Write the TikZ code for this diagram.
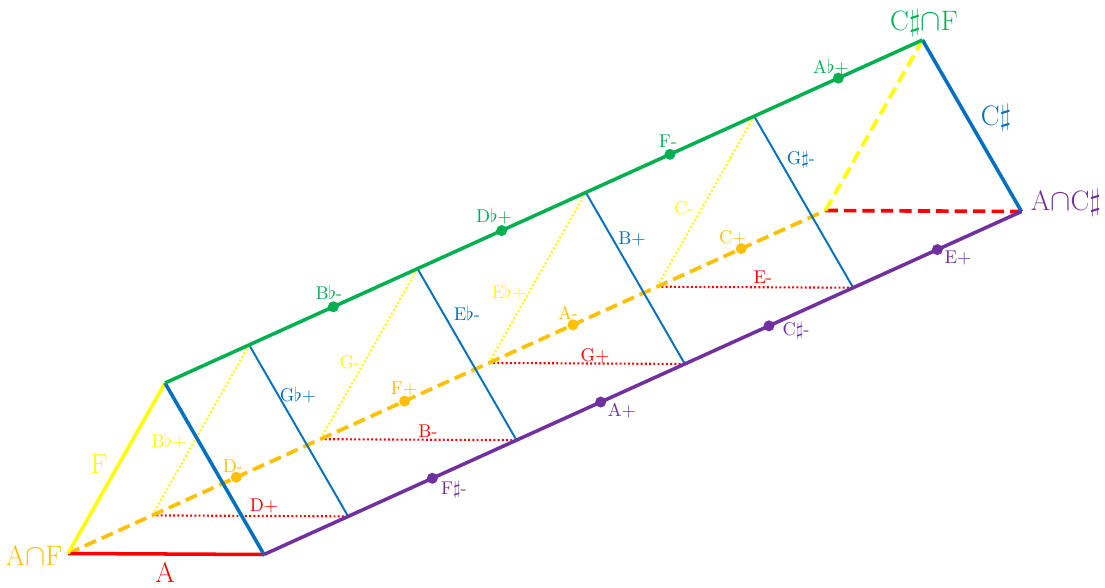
\documentclass[tikz,border=0pt]{standalone}
\usepackage{amssymb,amsmath}
\usepackage{tikz}
\usetikzlibrary{calc,positioning}

\definecolor{triadgreen}{HTML}{00B050}
\definecolor{triadpurple}{HTML}{7030A0}
\definecolor{triadblue}{HTML}{0070C0}
\definecolor{triadred}{HTML}{FF0000}
\definecolor{triadyellow}{HTML}{FFFF00}
\definecolor{triadorange}{HTML}{FFC000}

\tikzset{
  rim/.style={line width=2pt},
  hidden/.style={line width=2.1pt, dash pattern=on 7pt off 3.5pt},
  slice/.style={line width=1.1pt},
  dotline/.style={line width=1.2pt, dash pattern=on 1.1pt off 1.3pt},
  chord/.style={font=\fontsize{10.5}{12}\selectfont, inner sep=0pt},
  corner/.style={font=\fontsize{16}{19}\selectfont, inner sep=0pt},
}

\begin{document}
\begin{tikzpicture}
\useasboundingbox (0,0) rectangle (22.1,11.74);

% the six corners of the prism
\coordinate (afF) at (1.36,0.67);
\coordinate (acF) at (5.28,0.65);
\coordinate (cfF) at (3.30,4.08);
\coordinate (afB) at ($(afF)+(15.15,6.86)$);
\coordinate (acB) at ($(acF)+(15.15,6.86)$);
\coordinate (cfB) at ($(cfF)+(15.15,6.86)$);

% ninths along the three long edges
\foreach \k in {0,...,9} {
  \coordinate (o\k) at ($(afF)!\k/9!(afB)$);
  \coordinate (g\k) at ($(cfF)!\k/9!(cfB)$);
  \coordinate (p\k) at ($(acF)!\k/9!(acB)$);
}

% hidden cross lines
\draw[dotline, triadyellow] (o1) -- (g1);
\draw[dotline, triadyellow] (o3) -- (g3);
\draw[dotline, triadyellow] (o5) -- (g5);
\draw[dotline, triadyellow] (o7) -- (g7);
\draw[dotline, triadred] (o1) -- (p1);
\draw[dotline, triadred] (o3) -- (p3);
\draw[dotline, triadred] (o5) -- (p5);
\draw[dotline, triadred] (o7) -- (p7);

% hidden edges
\draw[hidden, triadorange] (afF) -- (afB);
\draw[hidden, triadred] (afB) -- (acB);
\draw[hidden, triadyellow] (afB) -- (cfB);

% front cross lines
\draw[slice, triadblue] (g1) -- (p1);
\draw[slice, triadblue] (g3) -- (p3);
\draw[slice, triadblue] (g5) -- (p5);
\draw[slice, triadblue] (g7) -- (p7);

% visible edges
\draw[rim, triadred] (afF) -- (acF);
\draw[rim, triadyellow] (afF) -- (cfF);
\draw[rim, triadblue] (cfF) -- (acF);
\draw[rim, triadblue] (cfB) -- (acB);
\draw[rim, triadgreen] (cfF) -- (cfB);
\draw[rim, triadpurple] (acF) -- (acB);

% dots
\foreach \k in {2,4,6,8} {
  \fill[triadorange] (o\k) circle (0.11);
  \fill[triadgreen] (g\k) circle (0.11);
  \fill[triadpurple] (p\k) circle (0.11);
}

% corner labels
\node[corner, triadorange] (lAF) at (0.68,0.62) {A$\cap$F};
\node[corner, triadred] (lA) at (3.30,0.29) {A};
\node[corner, triadyellow] (lF) at (1.98,2.46) {F};
\node[corner, triadgreen] (lCF) at (18.48,11.28) {C$\sharp\cap$F};
\node[corner, triadblue] (lC) at (19.92,9.38) {C$\sharp$};
\node[corner, triadpurple] (lAC) at (21.32,7.68) {A$\cap$C$\sharp$};

% chord labels
\node[chord, triadyellow] (lBbp) at (3.38,2.92) {B$\flat$+};
\node[chord, triadorange] (lDm) at (4.66,2.42) {D-};
\node[chord, triadred] (lDp) at (5.28,1.62) {D+};
\node[chord, triadblue] (lGbp) at (5.96,3.84) {G$\flat$+};
\node[chord, triadgreen] (lBbm) at (6.58,5.90) {B$\flat$-};
\node[chord, triadyellow] (lGm) at (7.00,4.50) {G-};
\node[chord, triadorange] (lFp) at (8.08,3.96) {F+};
\node[chord, triadred] (lBm) at (8.56,3.12) {B-};
\node[chord, triadblue] (lEbm) at (9.34,5.48) {E$\flat$-};
\node[chord, triadyellow] (lEbp) at (10.18,5.90) {E$\flat$+};
\node[chord, triadgreen] (lDbp) at (9.88,7.42) {D$\flat$+};
\node[chord, triadorange] (lAm) at (11.36,5.48) {A-};
\node[chord, triadred] (lGp) at (11.90,4.62) {G+};
\node[chord, triadblue] (lBp) at (12.64,6.96) {B+};
\node[chord, triadyellow] (lCm) at (13.68,7.58) {C-};
\node[chord, triadorange] (lCp) at (14.66,6.98) {C+};
\node[chord, triadred] (lEm) at (15.26,6.20) {E-};
\node[chord, triadgreen] (lFm) at (13.36,8.92) {F-};
\node[chord, triadgreen] (lAbp) at (16.62,10.40) {A$\flat$+};
\node[chord, triadblue] (lGsm) at (16.02,8.54) {G$\sharp$-};
\node[chord, triadpurple] (lEp) at (19.16,6.58) {E+};
\node[chord, triadpurple] (lCsm) at (15.92,5.12) {C$\sharp$-};
\node[chord, triadpurple] (lAp) at (12.44,3.52) {A+};
\node[chord, triadpurple] (lFsm) at (9.08,1.94) {F$\sharp$-};
\end{tikzpicture}
\end{document}
